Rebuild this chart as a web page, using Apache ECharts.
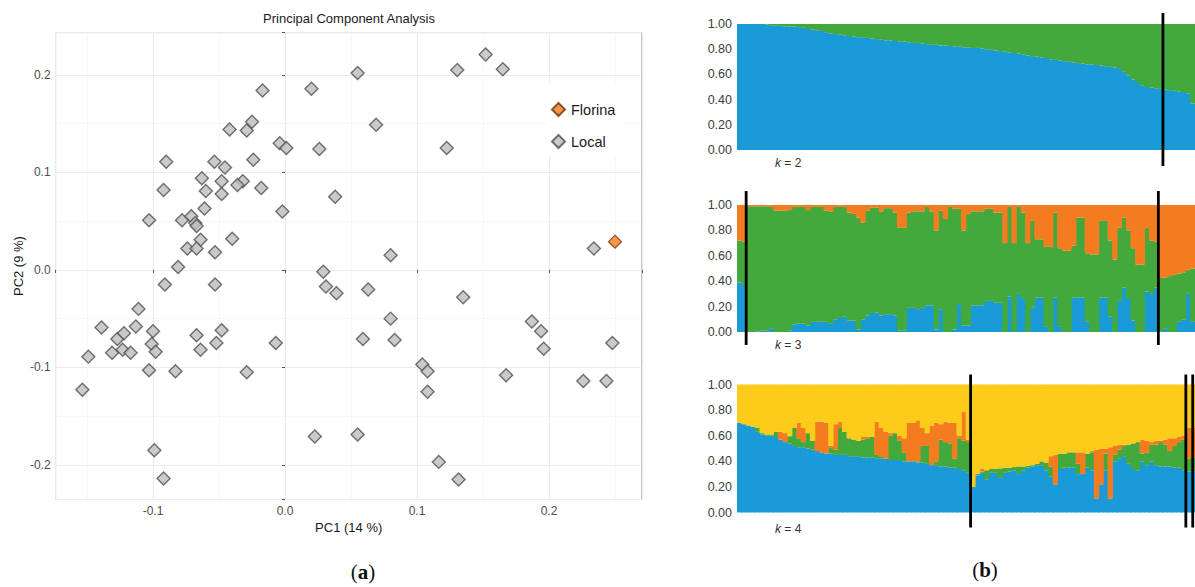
<!DOCTYPE html>
<html><head><meta charset="utf-8">
<script src="https://cdn.jsdelivr.net/npm/echarts/dist/echarts.min.js"></script>
<style>html,body{margin:0;padding:0;background:#fff}#c{width:1195px;height:587px}</style>
</head><body><div id="c"></div>
<script>
// ---------- Panel (a): PCA ----------
const florinaPts = [[0.250, 0.029]];
const localPts = [[.152,.221],[.1305,.205],[.165,.206],[.055,.202],[-.017,.184],[.020,.186],[.069,.149],[-.025,.152],[-.029,.143],[-.042,.144],[.1225,.125],[.026,.124],[-.004,.130],[.001,.125],[-.024,.113],[-.090,.111],[-.0535,.111],[-.0455,.105],[-.063,.094],[-.048,.091],[-.032,.091],[-.036,.087],[-.018,.084],[-.060,.081],[-.092,.082],[-.048,.078],[.038,.075],[-.061,.063],[-.002,.060],[-.103,.051],[-.078,.051],[-.071,.055],[-.068,.048],[-.067,.045],[-.064,.031],[-.040,.032],[-.074,.022],[-.067,.022],[-.053,.018],[.234,.022],[.080,.015],[-.081,.003],[.029,-.002],[-.091,-.015],[-.053,-.015],[.031,-.017],[.039,-.024],[.063,-.020],[.135,-.028],[-.111,-.040],[-.139,-.059],[-.113,-.058],[.080,-.050],[.187,-.053],[.194,-.063],[.196,-.081],[.248,-.075],[-.127,-.071],[-.122,-.065],[-.100,-.063],[-.067,-.067],[-.048,-.062],[-.101,-.076],[-.098,-.084],[-.064,-.082],[-.052,-.075],[-.131,-.085],[-.123,-.082],[-.117,-.085],[-.007,-.075],[.059,-.071],[.083,-.072],[-.149,-.089],[-.103,-.103],[-.083,-.104],[-.029,-.105],[.104,-.097],[.108,-.104],[.1675,-.108],[.226,-.114],[.2435,-.114],[-.1535,-.123],[.108,-.125],[.0226,-.171],[.055,-.169],[-.099,-.185],[.1165,-.197],[-.092,-.214],[.1315,-.215]];
const pcaXRange = [-0.1738, 0.2703];
const pcaYRange = [-0.2356, 0.2435];

// ---------- Panel (b): STRUCTURE bar plots ----------
const individuals = Array.from({length: 100}, (_, i) => String(i + 1));
const yTicks = ['0.00','0.20','0.40','0.60','0.80','1.00'];

// k = 2 : blue proportion (green = remainder)
const k2Blue = [1,1,1,1,1,1,
 .995,.99,.99,.985,.98,.98,.98,.975,
 .97,.96,.955,.95,.945,.935,
 .925,.92,.915,.91,.905,.90,.895,
 .895,.89,.885,.88,.875,.87,.87,
 .865,.86,.86,.855,.85,.85,.845,
 .84,.835,.835,.83,.83,.825,.82,.82,
 .815,.815,.81,.81,.805,.80,.795,
 .79,.785,.78,.775,
 .77,.765,.76,.75,.745,.74,.735,
 .73,.72,.715,.71,.705,.70,.695,
 .69,.685,.68,.68,.675,.67,.665,.66,.655,.65,
 .62,.59,.56,.54,
 .51,.50,.495,.49,.485,
 .48,.475,.47,.465,.46,.45,
 .37];
const k2Breaks = [93];

// k = 3 : blue, top of green (cumulative); orange fills to 1
const k3Blue = [.39,.37,0,0,.005,.01,.01,.03,0,0,
 0,.01,.06,.065,.065,.05,.08,.08,.08,.08,
 .064,.10,.11,.12,.09,.09,.02,.10,.13,.15,
 .155,.13,.14,.14,.13,.01,.01,.19,.19,.18,
 .19,.21,.21,.02,.18,0,0,.02,.22,.05,
 .05,.21,.21,.21,.245,.245,.23,.23,0,.28,
 0,.30,.26,0,.19,.27,.27,.04,0,.27,
 .04,0,0,.27,.27,.27,.08,0,0,.27,
 .27,.12,0,.245,.35,.26,.09,0,0,.32,
 .30,.35,0,.03,0,0,.08,.10,.30,.08];
const k3GreenTop = [.72,.71,.99,.99,.99,.985,.99,.985,.955,.955,
 .955,.96,.985,.985,.985,.96,.985,.985,.985,.955,
 .95,.985,.985,.985,.94,.93,.90,.86,.955,.98,
 .98,.95,.975,.975,.94,.82,.82,.94,.95,.95,
 .95,.985,.95,.80,.955,.89,.985,.97,.97,.80,
 .93,.95,.95,.95,.97,.97,.94,.94,.70,.985,
 .70,.99,.94,.70,.875,.73,.73,.67,.67,.94,
 .66,.64,.64,.68,.90,.90,.62,.61,.61,.875,
 .875,.72,.57,.82,.90,.80,.66,.53,.53,.82,
 .72,.71,.425,.43,.44,.45,.46,.47,.49,.50];
const k3Breaks = [2, 92];

// k = 4 : blue, top of green, top of orange (cumulative); yellow fills to 1
const k4Blue = [.70,.69,.68,.67,.63,.61,.60,.60,.59,.57,
 .55,.54,.52,.51,.51,.50,.49,.48,.47,.46,
 .46,.45,.45,.45,.44,.44,.44,.43,.43,.43,
 .42,.42,.42,.41,.41,.41,.40,.40,.40,.39,
 .39,.38,.37,.37,.36,.36,.35,.35,.34,.33,
 .31,.20,.29,.31,.26,.31,.31,.27,.31,.32,
 .33,.30,.33,.35,.36,.37,.37,.33,.28,.22,
 .34,.35,.35,.35,.30,.30,.35,.33,.11,.22,
 .33,.11,.40,.42,.44,.38,.34,.33,.40,.37,
 .40,.37,.36,.36,.36,.35,.35,.33,.32,.32];
const k4GreenTop = [.70,.69,.68,.67,.66,.62,.61,.61,.63,.57,
 .55,.595,.66,.58,.55,.62,.56,.48,.47,.46,
 .51,.49,.66,.63,.58,.57,.56,.57,.58,.59,
 .45,.44,.42,.60,.62,.56,.47,.40,.40,.40,
 .52,.52,.37,.40,.57,.55,.54,.42,.58,.56,
 .55,.20,.30,.32,.33,.34,.34,.345,.35,.35,
 .355,.36,.36,.365,.37,.38,.40,.39,.36,.22,
 .46,.46,.47,.47,.38,.30,.46,.47,.11,.22,
 .46,.11,.45,.49,.52,.53,.54,.55,.46,.47,
 .53,.53,.55,.53,.48,.52,.55,.57,.42,.43];
const k4OrangeTop = [.70,.69,.68,.67,.66,.62,.61,.61,.63,.63,
 .62,.60,.66,.70,.66,.62,.56,.71,.71,.70,
 .52,.69,.71,.63,.58,.57,.56,.59,.59,.59,
 .71,.66,.63,.62,.62,.60,.58,.70,.70,.72,
 .66,.62,.68,.70,.69,.71,.70,.70,.60,.79,
 .57,.20,.30,.34,.33,.34,.34,.345,.35,.35,
 .355,.36,.36,.365,.37,.38,.40,.39,.44,.45,
 .46,.46,.47,.47,.47,.47,.46,.48,.49,.50,
 .50,.51,.52,.53,.53,.53,.54,.55,.57,.56,
 .55,.56,.56,.57,.58,.58,.59,.60,.66,.66];
const k4Breaks = [51, 98, 99.5];

const C = {blue:'#1a9ad6', green:'#43a93c', orange:'#f47c20', yellow:'#fdcb1a'};
const FONT = '"Liberation Sans", Arial, sans-serif';
const r3 = v => Math.round(v * 1000) / 1000;
const diff = (a, b) => a.map((v, i) => r3(v - b[i]));
const rest = a => a.map(v => r3(1 - v));

const grids = [
  {left: 55.6, top: 32.6, width: 586.2, height: 466.9, show: true, borderColor: '#a8a8a8', borderWidth: 1},
  {left: 737, top: 24, width: 458, height: 126},
  {left: 737, top: 205, width: 458, height: 127},
  {left: 737, top: 384.5, width: 458, height: 128}
];
const tenth = v => { const r = Math.round(v * 10); return Math.abs(v * 10 - r) < 1e-6 ? (r / 10).toFixed(1) : ''; };

const pcaAxisCommon = {
  type: 'value', nameLocation: 'middle',
  nameTextStyle: {fontFamily: FONT, fontSize: 13, color: '#1a1a1a'},
  axisLine: {show: false},
  axisTick: {show: true, length: 3, lineStyle: {color: '#555'}},
  axisLabel: {fontFamily: FONT, fontSize: 12, color: '#4d4d4d', margin: 5, formatter: tenth},
  splitLine: {lineStyle: {color: '#ebebeb', width: 1.2}},
  minorTick: {show: false, splitNumber: 2},
  minorSplitLine: {show: true, lineStyle: {color: '#f4f4f4', width: 0.7}}
};
const xAxes = [Object.assign({}, pcaAxisCommon, {gridIndex: 0, min: pcaXRange[0], max: pcaXRange[1], name: 'PC1 (14 %)', nameGap: 20})];
const yAxes = [Object.assign({}, pcaAxisCommon, {gridIndex: 0, min: pcaYRange[0], max: pcaYRange[1], name: 'PC2 (9 %)', nameGap: 31})];
for (let g = 1; g <= 3; g++) {
  xAxes.push({gridIndex: g, type: 'category', data: individuals, show: false, boundaryGap: true});
  yAxes.push({gridIndex: g, type: 'value', min: 0, max: 1, interval: 0.2,
    axisLine: {show: false}, axisTick: {show: false}, splitLine: {show: false},
    axisLabel: {fontFamily: FONT, fontSize: 12.5, color: '#3d3d3d', margin: 5, formatter: v => yTicks[Math.round(v * 5)]}});
}

// bars slightly wider than their band so neighbouring bars overlap and no white seams show
const bar = (g, stack, data, color) => ({type: 'bar', xAxisIndex: g, yAxisIndex: g, stack, data, barWidth: 5.4,
  itemStyle: {color}, silent: true, animation: false});
const seps = (g, breaks, ext) => ({type: 'custom', xAxisIndex: g, yAxisIndex: g, silent: true, animation: false, z: 10, clip: false,
  data: breaks.map(b => [b, 0]),
  renderItem: (params, api) => {
    const b = api.value(0), base = Math.floor(b);
    const bw = api.size([1, 0])[0];
    const x = api.coord([base, 0])[0] + (b - base - 0.5) * bw;
    const top = api.coord([base, 1])[1], bot = api.coord([base, 0])[1];
    return {type: 'line', shape: {x1: x, y1: top - ext[0], x2: x, y2: bot + ext[1]}, style: {stroke: '#000', lineWidth: 2.8}};
  }});

const series = [
  {name: 'Local', type: 'scatter', xAxisIndex: 0, yAxisIndex: 0, symbol: 'diamond', symbolSize: 13, data: localPts,
   itemStyle: {color: '#bdbdbd', borderColor: '#4f4f4f', borderWidth: 1.4}, silent: true, animation: false},
  {name: 'Florina', type: 'scatter', xAxisIndex: 0, yAxisIndex: 0, symbol: 'diamond', symbolSize: 13, data: florinaPts,
   itemStyle: {color: '#f57a1f', borderColor: '#6b3512', borderWidth: 1.2}, silent: true, animation: false},
  bar(1, 'k2', k2Blue, C.blue), bar(1, 'k2', rest(k2Blue), C.green), seps(1, k2Breaks, [11, 16]),
  bar(2, 'k3', k3Blue, C.blue), bar(2, 'k3', diff(k3GreenTop, k3Blue), C.green), bar(2, 'k3', rest(k3GreenTop), C.orange), seps(2, k3Breaks, [14, 13]),
  bar(3, 'k4', k4Blue, C.blue), bar(3, 'k4', diff(k4GreenTop, k4Blue), C.green), bar(3, 'k4', diff(k4OrangeTop, k4GreenTop), C.orange), bar(3, 'k4', rest(k4OrangeTop), C.yellow), seps(3, k4Breaks, [10, 15])
];

const kLabel = (x, y, k) => ({type: 'text', x, y, silent: true, style: {
  text: '{i|k}{n| = ' + k + '}', verticalAlign: 'middle',
  rich: {i: {fontFamily: FONT, fontSize: 12, fontStyle: 'italic', fill: '#333'}, n: {fontFamily: FONT, fontSize: 12, fill: '#333'}}}});
const panelLabel = (x, y, l) => ({type: 'text', x, y, silent: true, style: {
  text: '{p|(}{b|' + l + '}{p|)}', align: 'center', verticalAlign: 'middle',
  rich: {p: {fontFamily: '"Liberation Serif", serif', fontSize: 21, fill: '#111'}, b: {fontFamily: '"Liberation Serif", serif', fontSize: 21, fontWeight: 'bold', fill: '#111'}}}});

const chart = echarts.init(document.getElementById('c'), null, {renderer: 'svg'});
chart.setOption({
  animation: false,
  grid: grids, xAxis: xAxes, yAxis: yAxes, series,
  legend: {data: ['Florina', 'Local'], orient: 'vertical', left: 547, top: 83, icon: 'diamond', itemWidth: 13, itemHeight: 13,
    itemGap: 17, padding: [19, 10, 7, 4], backgroundColor: '#fff', selectedMode: false,
    textStyle: {fontFamily: FONT, fontSize: 14.5, color: '#1a1a1a', padding: [0, 0, 0, 1]}},
  graphic: [
    {type: 'text', x: 349, y: 18, silent: true, style: {text: 'Principal Component Analysis', align: 'center', verticalAlign: 'middle', fontFamily: FONT, fontSize: 13, fill: '#1a1a1a'}},
    kLabel(775, 163, 2), kLabel(775, 345, 3), kLabel(775, 529, 4),
    panelLabel(363, 572, 'a'), panelLabel(985, 570, 'b')
  ]
});
</script></body></html>
